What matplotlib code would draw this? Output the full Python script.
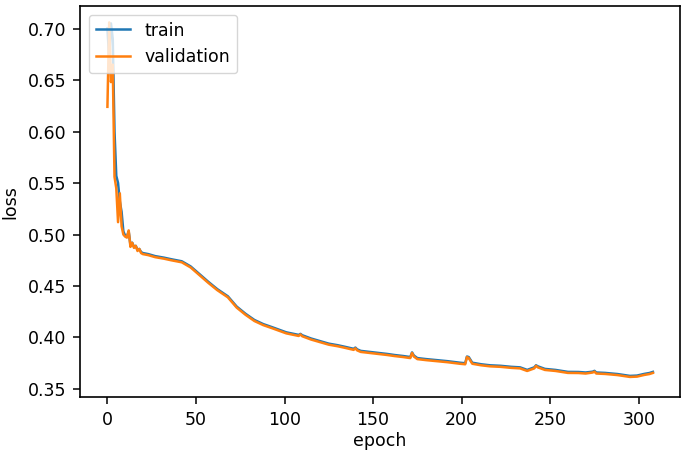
import matplotlib.pyplot as plt

# loss values (epoch, value)
epochs = [0, 1, 2, 3, 4, 5, 6, 7, 8, 9, 10, 11, 12, 13, 14, 15, 16, 17, 18, 19,
          20, 23, 27, 32, 36, 42, 47, 51, 57, 62, 68, 73, 78, 83, 88, 93, 101,
          108, 109, 110, 115, 120, 125, 130, 134, 139, 140, 141, 143, 148, 153,
          158, 162, 167, 171, 172, 173, 175, 180, 186, 192, 199, 202, 203, 204,
          206, 211, 216, 222, 228, 233, 237, 241, 242, 243, 247, 253, 260, 266,
          270, 274, 275, 276, 281, 288, 295, 299, 303, 306, 308]

train = [0.700, 0.672, 0.705, 0.690, 0.600, 0.557, 0.550, 0.532, 0.522, 0.503,
         0.499, 0.498, 0.503, 0.490, 0.492, 0.488, 0.489, 0.485, 0.486, 0.483,
         0.482, 0.481, 0.479, 0.4775, 0.476, 0.474, 0.469, 0.463, 0.454, 0.447,
         0.440, 0.430, 0.423, 0.417, 0.413, 0.410, 0.405, 0.4025, 0.4035, 0.4022,
         0.399, 0.3965, 0.394, 0.3925, 0.391, 0.389, 0.3902, 0.3885, 0.387, 0.386,
         0.385, 0.384, 0.383, 0.382, 0.381, 0.3855, 0.3825, 0.380, 0.379, 0.378,
         0.377, 0.3755, 0.375, 0.3815, 0.381, 0.3755, 0.374, 0.373, 0.3725, 0.3715,
         0.371, 0.3685, 0.371, 0.3730, 0.372, 0.3695, 0.3685, 0.3666, 0.3665, 0.3660,
         0.3668, 0.3676, 0.3660, 0.3656, 0.3645, 0.3627, 0.3630, 0.3646, 0.3655, 0.3666]

validation = [0.624, 0.706, 0.648, 0.665, 0.556, 0.545, 0.512, 0.540, 0.508, 0.500,
              0.498, 0.497, 0.504, 0.488, 0.492, 0.487, 0.489, 0.484, 0.486, 0.482,
              0.481, 0.480, 0.478, 0.4765, 0.475, 0.473, 0.468, 0.462, 0.453, 0.446,
              0.439, 0.429, 0.422, 0.416, 0.412, 0.409, 0.404, 0.4015, 0.4030, 0.4012,
              0.398, 0.3955, 0.393, 0.3915, 0.390, 0.388, 0.3895, 0.3875, 0.386, 0.385,
              0.384, 0.383, 0.382, 0.381, 0.380, 0.385, 0.3815, 0.379, 0.378, 0.377,
              0.376, 0.3745, 0.374, 0.381, 0.380, 0.3745, 0.373, 0.372, 0.3715, 0.3705,
              0.370, 0.3675, 0.370, 0.3725, 0.371, 0.3685, 0.3675, 0.3656, 0.3655, 0.3650,
              0.3660, 0.3668, 0.3650, 0.3646, 0.3635, 0.3617, 0.3620, 0.3636, 0.3645, 0.3656]

plt.rcParams['font.size'] = 12.5

fig, ax = plt.subplots(figsize=(6.85, 4.55), dpi=100)
fig.subplots_adjust(left=0.117, right=0.993, top=0.987, bottom=0.127)

ax.plot(epochs, train, color='tab:blue', linewidth=1.8, label='train')
ax.plot(epochs, validation, color='tab:orange', linewidth=1.8, label='validation')

ax.set_xlim(-15.4, 323.4)
ax.set_ylim(0.342, 0.722)
ax.set_yticks([0.35, 0.40, 0.45, 0.50, 0.55, 0.60, 0.65, 0.70])
ax.set_xlabel('epoch', labelpad=2)
ax.set_ylabel('loss', labelpad=6)
ax.tick_params(length=5, width=1.1, pad=5)
for s in ax.spines.values():
    s.set_linewidth(1.2)

ax.legend(loc='upper left')

fig.savefig('out.png')
